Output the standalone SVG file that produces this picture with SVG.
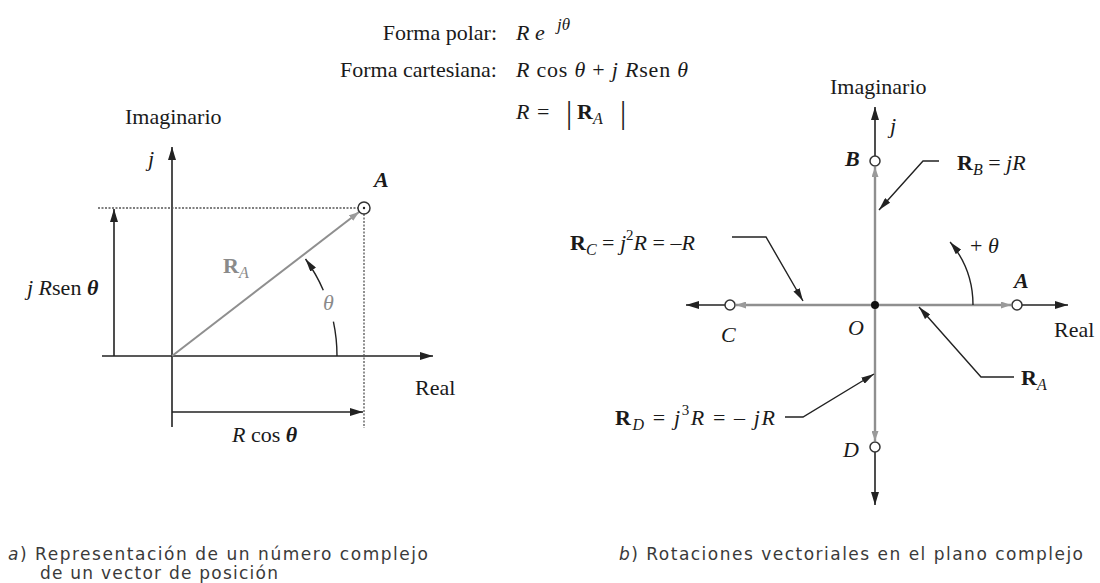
<svg xmlns="http://www.w3.org/2000/svg" width="1100" height="583" viewBox="0 0 1100 583">
<style>
.s{font-family:"Liberation Serif","Times New Roman",serif;font-size:22px;fill:#1a1a1a}
.it{font-style:italic}
.bd{font-weight:bold}
.g{fill:#8a8a8a}
.sub{font-size:16px;font-style:italic}
.sup{font-size:15px}
.big{font-size:31px}
.ex{font-size:17px}
.cap{font-family:"DejaVu Sans",sans-serif;font-size:17px;fill:#3a3a3a}
.axis{stroke:#222;stroke-width:1.6;fill:none}
.vec{stroke:#8f8f8f;stroke-width:2.4;fill:none}
.vecl{stroke:#8f8f8f;stroke-width:2;fill:none}
.dot{stroke:#555;stroke-width:1.3;stroke-dasharray:2 1.5;fill:none}
.lead{stroke:#222;stroke-width:1.4;fill:none}
.pt{fill:#fff;stroke:#333;stroke-width:1.5}
</style>
<defs>
<marker id="ah" viewBox="0 0 13 8" refX="13" refY="4" markerWidth="13" markerHeight="8" markerUnits="userSpaceOnUse" orient="auto"><path d="M0,0 L13,4 L0,8 z" fill="#222"/></marker>
<marker id="ahl" viewBox="0 0 13 7" refX="13" refY="3.5" markerWidth="13" markerHeight="7" markerUnits="userSpaceOnUse" orient="auto"><path d="M0,0 L13,3.5 L0,7 z" fill="#222"/></marker>
<marker id="ahg" viewBox="0 0 10 7" refX="10" refY="3.5" markerWidth="10" markerHeight="7" markerUnits="userSpaceOnUse" orient="auto"><path d="M0,0 L10,3.5 L0,7 z" fill="#9a9a9a"/></marker>
</defs>

<g id="formulas">
<text class="s" x="497" y="40" text-anchor="end">Forma polar:</text>
<text class="s" x="516" y="40"><tspan class="it">R e</tspan></text>
<text class="s it ex" x="557" y="30">jθ</text>
<text class="s" x="497" y="77" text-anchor="end">Forma cartesiana:</text>
<text class="s" x="516" y="77" textLength="172" lengthAdjust="spacing"><tspan class="it">R</tspan> cos <tspan class="it">θ</tspan> + <tspan class="it">j R</tspan>sen <tspan class="it">θ</tspan></text>
<text class="s" x="516" y="119"><tspan class="it">R</tspan></text>
<text class="s" x="537" y="119">=</text>
<text class="s big" x="566" y="123">|</text>
<text class="s" x="577" y="119"><tspan class="bd">R</tspan><tspan class="sub" dy="5">A</tspan></text>
<text class="s big" x="620" y="123">|</text>
</g>

<g id="left-diagram">
<g id="left-axes">
<line class="axis" x1="172" y1="427" x2="172" y2="147" marker-end="url(#ah)"/>
<line class="axis" x1="102" y1="356" x2="433" y2="356" marker-end="url(#ah)"/>
</g>
<g id="left-connectors">
<line class="dot" x1="98" y1="208" x2="358" y2="208"/>
<line class="dot" x1="364" y1="214" x2="364" y2="428"/>
<line class="axis" x1="114" y1="356" x2="114" y2="209" marker-end="url(#ah)"/>
<line class="axis" x1="172" y1="412" x2="363" y2="412" marker-end="url(#ah)"/>
<line class="vecl" x1="172" y1="356" x2="359" y2="212" marker-end="url(#ahg)"/>
<path class="lead" d="M337,356 A165,165 0 0 0 333.4,321.7"/>
<path class="lead" d="M323.3,290.2 A165,165 0 0 0 305.5,259" marker-end="url(#ahl)"/>
</g>
<g id="node-A-left">
<circle class="pt" cx="364" cy="208" r="6"/>
<circle cx="364" cy="208" r="1.2" fill="#222"/>
<text class="s it bd" x="374" y="187">A</text>
</g>
<text class="s" x="125" y="124">Imaginario</text>
<text class="s it" x="148" y="166">j</text>
<text class="s" x="27" y="295"><tspan class="it">j R</tspan>sen <tspan class="it bd">θ</tspan></text>
<text class="s g" x="223" y="273"><tspan class="bd">R</tspan><tspan class="sub" dy="5">A</tspan></text>
<text class="s it g" x="323" y="310">θ</text>
<text class="s" x="415" y="395">Real</text>
<text class="s" x="232" y="442"><tspan class="it">R</tspan> cos <tspan class="it bd">θ</tspan></text>
</g>

<g id="right-diagram">
<g id="right-connectors">
<line class="axis" x1="875" y1="156" x2="875" y2="107" marker-end="url(#ah)"/>
<line class="axis" x1="875" y1="452" x2="875" y2="505" marker-end="url(#ah)"/>
<line class="axis" x1="725" y1="305" x2="686" y2="305" marker-end="url(#ah)"/>
<line class="axis" x1="1022" y1="305" x2="1068" y2="305" marker-end="url(#ah)"/>
<line class="vec" x1="875" y1="305" x2="875" y2="167" marker-end="url(#ahg)"/>
<line class="vec" x1="875" y1="305" x2="736" y2="305" marker-end="url(#ahg)"/>
<line class="vec" x1="875" y1="305" x2="1011" y2="305" marker-end="url(#ahg)"/>
<line class="vec" x1="875" y1="305" x2="875" y2="441" marker-end="url(#ahg)"/>
<path class="lead" d="M973,305 A98,98 0 0 0 950.1,242" marker-end="url(#ahl)"/>
<polyline class="lead" points="939,161 923,161 879,210" marker-end="url(#ahl)"/>
<polyline class="lead" points="732,237 766,237 803,301" marker-end="url(#ahl)"/>
<polyline class="lead" points="1014,377 981,377 919,307" marker-end="url(#ahl)"/>
<polyline class="lead" points="785,417 803,417 874,374" marker-end="url(#ahl)"/>
</g>
<g id="node-O"><circle cx="875" cy="305" r="4" fill="#111"/><text class="s it" x="848" y="335">O</text></g>
<g id="node-B"><circle class="pt" cx="875" cy="161" r="5"/><text class="s it bd" x="845" y="166">B</text></g>
<g id="node-C"><circle class="pt" cx="730" cy="305" r="5"/><text class="s it" x="721" y="342">C</text></g>
<g id="node-A"><circle class="pt" cx="1017" cy="305" r="5"/><text class="s it bd" x="1014" y="288">A</text></g>
<g id="node-D"><circle class="pt" cx="875" cy="447" r="5"/><text class="s it" x="843" y="457">D</text></g>
<text class="s" x="830" y="94">Imaginario</text>
<text class="s it" x="890" y="133">j</text>
<text class="s" x="1054" y="337">Real</text>
<text class="s" x="970" y="253">+ <tspan class="it">θ</tspan></text>
<text class="s" x="957" y="170"><tspan class="bd">R</tspan><tspan class="sub" dy="5">B</tspan><tspan dy="-5"> = </tspan><tspan class="it">jR</tspan></text>
<text class="s" x="570" y="250"><tspan class="bd">R</tspan><tspan class="sub" dy="5">C</tspan><tspan dy="-5"> = </tspan><tspan class="it">j</tspan><tspan class="sup" dy="-10">2</tspan><tspan class="it" dy="10">R</tspan> = <tspan class="it">–R</tspan></text>
<text class="s" x="1021" y="385"><tspan class="bd">R</tspan><tspan class="sub" dy="5">A</tspan></text>
<text class="s" x="615" y="425" textLength="160" lengthAdjust="spacing"><tspan class="bd">R</tspan><tspan class="sub" dy="5">D</tspan><tspan dy="-5"> = </tspan><tspan class="it">j</tspan><tspan class="sup" dy="-10">3</tspan><tspan class="it" dy="10">R</tspan> = – <tspan class="it">jR</tspan></text>
</g>

<g id="captions">
<text class="cap" x="8" y="560" textLength="420" lengthAdjust="spacing"><tspan font-style="italic">a</tspan>) Representación de un número complejo</text>
<text class="cap" x="40" y="579" textLength="238" lengthAdjust="spacing">de un vector de posición</text>
<text class="cap" x="619" y="560" textLength="464" lengthAdjust="spacing"><tspan font-style="italic">b</tspan>) Rotaciones vectoriales en el plano complejo</text>
</g>
</svg>
